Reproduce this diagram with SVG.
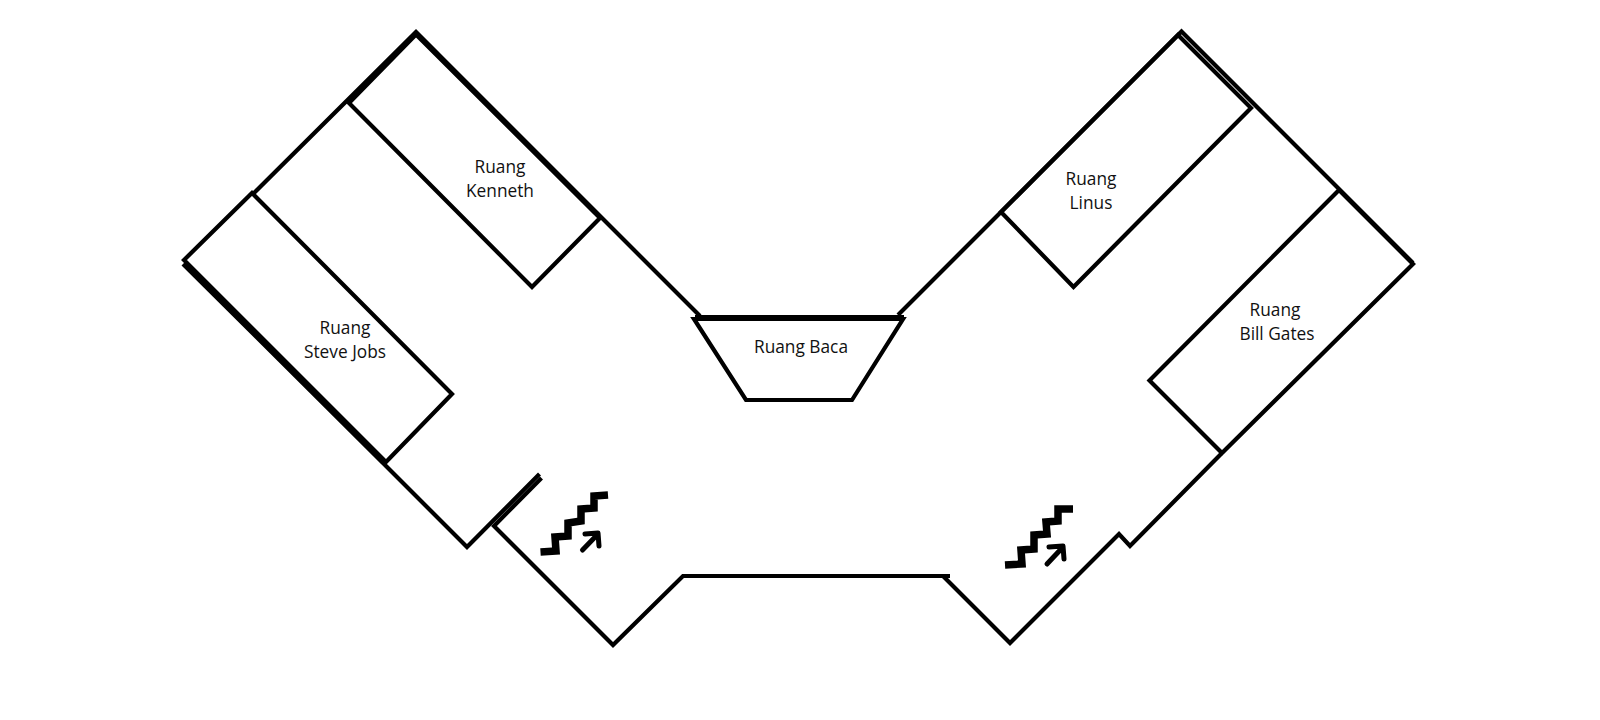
<svg xmlns="http://www.w3.org/2000/svg" width="1600" height="720" viewBox="0 0 1600 720">
<style>
.w{fill:none;stroke:#000;stroke-width:4.200;stroke-linejoin:miter}
.s{fill:none;stroke:#000;stroke-width:7.500;stroke-linejoin:miter}
.a{fill:none;stroke:#000;stroke-width:5;stroke-linecap:round;stroke-linejoin:round}
text{font-family:"Open Sans","Noto Sans",sans-serif;font-size:17.300px;fill:#111;text-anchor:middle}
</style>
<rect width="1600" height="720" fill="#fff"/>
<g id="walls">
<path class="w" d="M253 194L416 32L700 316"/>
<path class="w" d="M183 264L386 466L467 547L539.500 474"/>
<path class="w" d="M541.500 478L494 526L613 645L683 576H950"/>
<path class="w" d="M943 576L1010 643L1119 534L1130 546L1221 454"/>
<path class="w" d="M898 315L1181.500 31.500L1413 263"/>
</g>
<g id="ruang-kenneth"><path class="w" d="M349 103L416 34.500L600 218L532 287Z"/><text x="500" y="173">Ruang</text><text x="500" y="197">Kenneth</text></g>
<g id="ruang-steve-jobs"><path class="w" d="M252 193L452 394L386 462L184 260Z"/><text x="345" y="334">Ruang</text><text x="345" y="358">Steve Jobs</text></g>
<g id="ruang-baca"><path class="w" d="M694 319H903L852 400H746Z"/><path class="w" d="M695 317H904"/><text x="801" y="353">Ruang Baca</text></g>
<g id="ruang-linus"><path class="w" d="M1178 35L1251 108L1073.500 287L1001 212Z"/><text x="1091" y="185">Ruang</text><text x="1091" y="209">Linus</text></g>
<g id="ruang-bill-gates"><path class="w" d="M1339 190L1413 264L1222 453L1149.500 380.500Z"/><text x="1275" y="316">Ruang</text><text x="1277" y="340">Bill Gates</text></g>
<g id="stairs-left"><path class="s" d="M540.500 552L556 551L555 537L568 536L568 523L581 521L581 509L594 508L594 496L608 495"/><path class="a" d="M582.500 550L598 534M585 534L598 533L599 546"/></g>
<g id="stairs-right"><path class="s" d="M1005 565L1022 564L1021 550L1034 549L1034 535L1047 534L1046 522L1058 521L1058 509L1073 509"/><path class="a" d="M1047 564L1063 547M1049 547L1063 546L1064 559"/></g>
</svg>
